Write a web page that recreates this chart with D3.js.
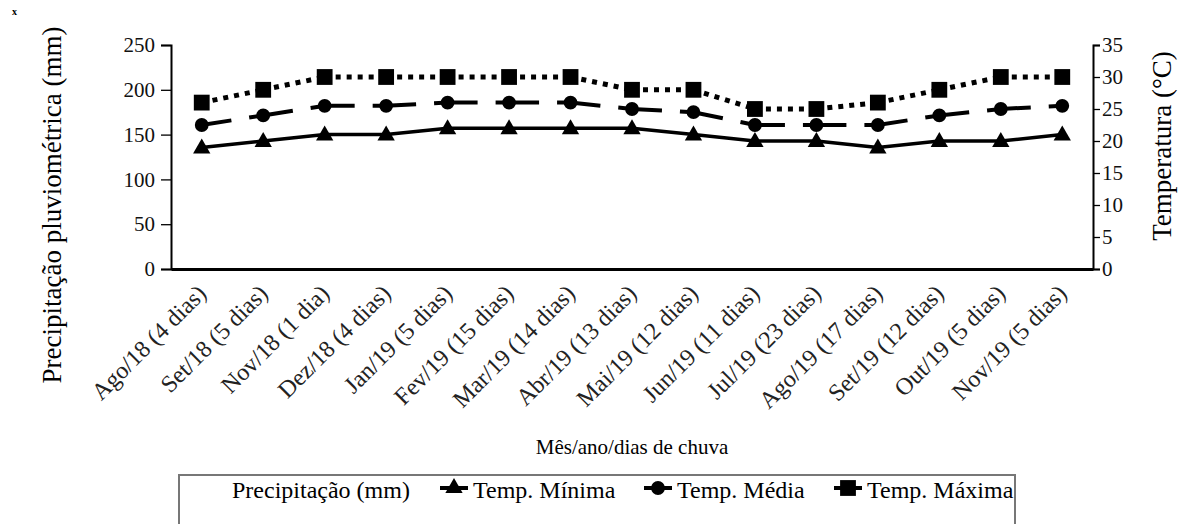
<!DOCTYPE html>
<html>
<head>
<meta charset="utf-8">
<script src="https://cdn.jsdelivr.net/npm/d3@7"></script>
<style>
  body { margin: 0; background: #fff; }
  svg, svg text { font-family: "Liberation Serif", "Times New Roman", Tinos, "DejaVu Serif", serif; }
</style>
</head>
<body>
<svg id="chart" width="1184" height="524"></svg>
<script>
// dados
var categorias = ["Ago/18 (4 dias)", "Set/18 (5 dias)", "Nov/18 (1 dia)", "Dez/18 (4 dias)",
  "Jan/19 (5 dias)", "Fev/19 (15 dias)", "Mar/19 (14 dias)", "Abr/19 (13 dias)",
  "Mai/19 (12 dias)", "Jun/19 (11 dias)", "Jul/19 (23 dias)", "Ago/19 (17 dias)",
  "Set/19 (12 dias)", "Out/19 (5 dias)", "Nov/19 (5 dias)"];
var tempMinima = [19, 20, 21, 21, 22, 22, 22, 22, 21, 20, 20, 19, 20, 20, 21];
var tempMedia = [22.5, 24, 25.5, 25.5, 26, 26, 26, 25, 24.5, 22.5, 22.5, 22.5, 24, 25, 25.5];
var tempMaxima = [26, 28, 30, 30, 30, 30, 30, 28, 28, 25, 25, 26, 28, 30, 30];
var precipTicks = [0, 50, 100, 150, 200, 250];
var tempTicks = [0, 5, 10, 15, 20, 25, 30, 35];

(function () {
  var svg = d3.select("#chart");
  var mLeft = 171, mRight = 1093, mTop = 45, mBottom = 269;

  var x = d3.scaleBand().domain(categorias).range([mLeft, mRight]);
  var yP = d3.scaleLinear().domain([0, 250]).range([mBottom, mTop]);
  var yT = d3.scaleLinear().domain([0, 35]).range([mBottom, mTop]);
  var cx = function (i) { return x(categorias[i]) + x.bandwidth() / 2; };

  // marca no canto
  svg.append("text").attr("x", 12).attr("y", 15).attr("font-size", 10).attr("font-weight", "bold").text("x");

  // eixo esquerdo
  var gL = svg.append("g").attr("transform", "translate(" + mLeft + ",0)")
    .call(d3.axisLeft(yP).tickValues(precipTicks).tickSize(10).tickPadding(6));
  // eixo direito
  var gR = svg.append("g").attr("transform", "translate(" + mRight + ",0)")
    .call(d3.axisRight(yT).tickValues(tempTicks).tickSize(7).tickPadding(2));
  [gL, gR].forEach(function (g) {
    g.attr("font-family", null);
    g.select(".domain").attr("stroke", "#000").attr("stroke-width", 2);
    g.selectAll(".tick line").attr("stroke", "#000").attr("stroke-width", 1.3);
    g.selectAll(".tick text").attr("font-size", 21).attr("fill", "#111");
  });
  // eixo x
  var gX = svg.append("g").attr("transform", "translate(0," + mBottom + ")")
    .call(d3.axisBottom(x).tickSize(0).tickPadding(0));
  gX.attr("font-family", null);
  gX.select(".domain").attr("stroke", "#000").attr("stroke-width", 3);
  gX.selectAll(".tick text")
    .attr("font-size", 24).attr("fill", "#222")
    .attr("text-anchor", "end").attr("dy", "0.35em")
    .attr("transform", "translate(0,20) rotate(-45)");

  // títulos
  svg.append("text").attr("transform", "translate(61,205) rotate(-90)")
    .attr("text-anchor", "middle").attr("font-size", 27).text("Precipitação pluviométrica (mm)");
  svg.append("text").attr("transform", "translate(1171,146) rotate(-90)")
    .attr("text-anchor", "middle").attr("font-size", 27).text("Temperatura (°C)");
  svg.append("text").attr("x", 632).attr("y", 454)
    .attr("text-anchor", "middle").attr("font-size", 21).text("Mês/ano/dias de chuva");

  var triangulo = d3.symbol().type(d3.symbolTriangle).size(130);
  var circulo = d3.symbol().type(d3.symbolCircle).size(150);
  var quadrado = d3.symbol().type(d3.symbolSquare).size(250);

  function serie(valores, estilo, simbolo) {
    var g = svg.append("g");
    var pts = valores.map(function (v, i) { return [cx(i), yT(v)]; });
    d3.pairs(pts).forEach(function (p) {
      g.append("path").attr("d", d3.line()(p)).attr("fill", "none").attr("stroke", "#000")
        .attr("stroke-width", estilo.w).attr("stroke-dasharray", estilo.dash || null);
    });
    g.selectAll("path.m").data(pts).enter().append("path").attr("class", "m")
      .attr("d", simbolo).attr("fill", "#000")
      .attr("transform", function (p) { return "translate(" + p[0] + "," + (p[1] + (estilo.dy || 0)) + ")"; });
  }
  serie(tempMinima, { w: 3.5, dy: 1 }, triangulo);
  serie(tempMedia, { w: 4, dash: "30,18" }, circulo);
  serie(tempMaxima, { w: 5, dash: "5,6" }, quadrado);

  // legenda
  svg.append("rect").attr("x", 179).attr("y", 475).attr("width", 836).attr("height", 60)
    .attr("fill", "none").attr("stroke", "#777").attr("stroke-width", 2);
  svg.append("text").attr("x", 232).attr("y", 498).attr("font-size", 24).text("Precipitação (mm)");
  var itens = [
    { nome: "Temp. Mínima", x: 454, s: triangulo },
    { nome: "Temp. Média", x: 658, s: circulo },
    { nome: "Temp. Máxima", x: 848, s: quadrado }
  ];
  itens.forEach(function (it) {
    svg.append("line").attr("x1", it.x - 14).attr("x2", it.x + 14).attr("y1", 488).attr("y2", 488)
      .attr("stroke", "#000").attr("stroke-width", 4);
    svg.append("path").attr("d", it.s).attr("transform", "translate(" + it.x + ",488)");
    svg.append("text").attr("x", it.x + 19).attr("y", 498).attr("font-size", 24).text(it.nome);
  });
})();
</script>
</body>
</html>
